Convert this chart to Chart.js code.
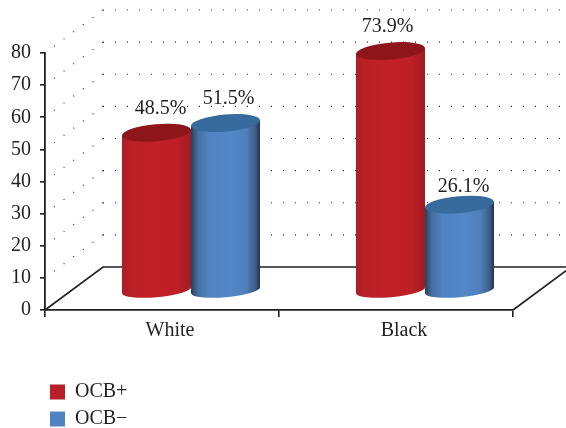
<!DOCTYPE html>
<html>
<head>
<meta charset="utf-8">
<script src="https://cdn.jsdelivr.net/npm/chart.js@4"></script>
<style>
html, body { margin: 0; padding: 0; background: #fff; }
#wrap { width: 566px; height: 428px; position: relative; }
</style>
</head>
<body>
<div id="wrap"><canvas id="mycanvas"></canvas></div>
<script>
var categories = ["White", "Black"];
var ocbPlus = [48.5, 73.9];
var ocbMinus = [51.5, 26.1];
var yTicks = [0, 10, 20, 30, 40, 50, 60, 70, 80];

var textColor = "#231f20";
var serif = "'Liberation Serif', serif";

// fake 3D box: how far the back wall sits from the front axes
var depthX = 58, depthY = -43;

// small shifts of the value labels, per dataset and category
var labelNudge = [[[4, 0], [-3, 0]], [[3, 0], [4, 6]]];

function dotted(ctx, x1, y1, x2, y2) {
	ctx.beginPath();
	ctx.moveTo(x1, y1);
	ctx.lineTo(x2, y2);
	ctx.stroke();
}

function drawWalls(chart) {
	var ctx = chart.ctx;
	var area = chart.chartArea;
	var yScale = chart.scales.y;

	ctx.save();
	ctx.strokeStyle = textColor;
	ctx.lineWidth = 1.1;
	ctx.setLineDash([1, 11]);
	yTicks.forEach(function(v) {
		if (v === 0) return;
		var py = yScale.getPixelForValue(v);
		dotted(ctx, area.left + depthX, py + depthY, area.right + depthX, py + depthY);
		dotted(ctx, area.left + depthX, py + depthY, area.left, py);
	});
	ctx.setLineDash([]);

	// floor outline
	ctx.lineWidth = 1.6;
	ctx.beginPath();
	ctx.moveTo(area.left, area.bottom);
	ctx.lineTo(area.left + depthX, area.bottom + depthY);
	ctx.lineTo(area.right + depthX, area.bottom + depthY);
	ctx.lineTo(area.right, area.bottom);
	ctx.stroke();
	ctx.restore();
}

function drawCylinder(ctx, bar, ds) {
	var cx = bar.x + depthX / 2;
	var top = bar.y + depthY / 2;
	var bottom = bar.base - 19;
	var hw = bar.width / 2;
	var tilt = 3;
	var rot = -Math.atan(tilt / hw);
	var rx = Math.sqrt(hw * hw + tilt * tilt);

	var grad = ctx.createLinearGradient(cx - hw, 0, cx + hw, 0);
	ds.shades.forEach(function(s) {
		grad.addColorStop(s[0], s[1]);
	});

	ctx.beginPath();
	ctx.moveTo(cx - hw, top + tilt);
	ctx.lineTo(cx - hw, bottom + tilt);
	ctx.ellipse(cx, bottom, rx, 7, rot, Math.PI, 0, true);
	ctx.lineTo(cx + hw, top - tilt);
	ctx.closePath();
	ctx.fillStyle = grad;
	ctx.fill();

	ctx.beginPath();
	ctx.ellipse(cx, top, rx, 8.5, rot, 0, Math.PI * 2);
	ctx.fillStyle = ds.capColor;
	ctx.fill();
}

var cylinders = {
	id: "cylinders",
	afterLayout: function(chart) {
		// stack the legend entries in one column under the axis
		var legend = chart.legend;
		legend.maxWidth = 120;
		legend.fit();
		legend.left = 43;
		legend.top = 375;
		legend.right = legend.left + legend.width;
		legend.bottom = legend.top + legend.height;
	},
	beforeDatasetsDraw: function(chart) {
		var ctx = chart.ctx;
		drawWalls(chart);

		// red first so the blue cylinder overlaps it
		chart.data.datasets.forEach(function(ds, i) {
			chart.getDatasetMeta(i).data.forEach(function(bar) {
				drawCylinder(ctx, bar, ds);
			});
		});

		ctx.save();
		ctx.font = "20px " + serif;
		ctx.fillStyle = textColor;
		ctx.textAlign = "center";
		ctx.textBaseline = "alphabetic";
		chart.data.datasets.forEach(function(ds, i) {
			chart.getDatasetMeta(i).data.forEach(function(bar, j) {
				var nudge = labelNudge[i][j];
				ctx.fillText(ds.data[j].toFixed(1) + "%",
					bar.x + depthX / 2 + nudge[0],
					bar.y + depthY / 2 - 19 + nudge[1]);
			});
		});
		ctx.restore();
		return false;
	}
};

var chartdata = {
	labels: categories,
	datasets: [
		{
			label: "OCB+",
			data: ocbPlus,
			backgroundColor: "#b51f26",
			borderWidth: 0,
			capColor: "#8e1519",
			shades: [[0, "#a81f25"], [0.12, "#ba2027"], [0.45, "#c22027"], [0.8, "#bd1f26"], [1, "#a01c20"]]
		},
		{
			label: "OCB\u2212",
			data: ocbMinus,
			backgroundColor: "#5082c4",
			borderWidth: 0,
			capColor: "#376a9d",
			shades: [[0, "#2b3f5c"], [0.1, "#44709f"], [0.25, "#5083c3"], [0.6, "#5387c8"], [0.8, "#4f7fba"], [0.93, "#3c5f8a"], [1, "#263347"]]
		}
	]
};

var ctx = document.getElementById("mycanvas");

var chart = new Chart(ctx, {
	type: "bar",
	data: chartdata,
	plugins: [cylinders],
	options: {
		responsive: true,
		maintainAspectRatio: false,
		animation: false,
		layout: { padding: { top: 53, right: 53, bottom: 51, left: 0 } },
		categoryPercentage: 0.59,
		barPercentage: 1,
		scales: {
			x: {
				grid: { drawOnChartArea: false, color: textColor, tickLength: 7, lineWidth: 1.6 },
				border: { color: textColor, width: 1.8 },
				ticks: { color: textColor, font: { family: serif, size: 20 }, padding: 2, maxRotation: 0, labelOffset: 8 },
				afterFit: function(scale) { scale.height = 30; }
			},
			y: {
				min: 0,
				max: 80,
				grid: { drawOnChartArea: false, color: textColor, tickLength: 5, lineWidth: 1.6 },
				border: { color: textColor, width: 1.8 },
				afterBuildTicks: function(scale) {
					scale.ticks = yTicks.map(function(v) { return { value: v }; });
				},
				ticks: { color: textColor, font: { family: serif, size: 20 }, padding: 9 },
				afterFit: function(scale) { scale.width = 45; }
			}
		},
		plugins: {
			tooltip: { enabled: false },
			legend: {
				position: "bottom",
				align: "start",
				labels: {
					boxWidth: 15,
					boxHeight: 15,
					padding: 7,
					color: textColor,
					font: { family: serif, size: 20 }
				}
			}
		}
	}
});
</script>
</body>
</html>
